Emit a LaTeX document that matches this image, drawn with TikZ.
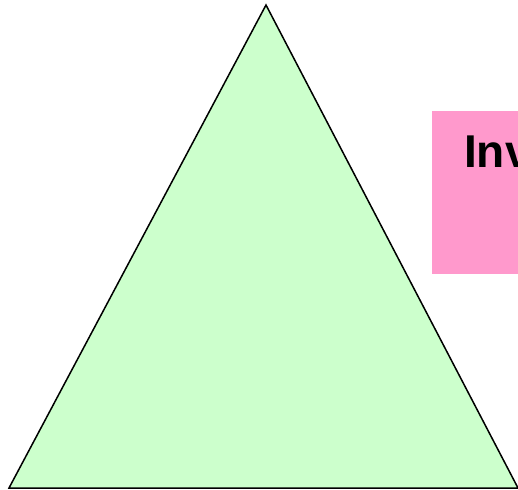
\documentclass[tikz,border=0pt]{standalone}
\usepackage{fontspec}
\setmainfont{Liberation Sans}
\definecolor{trigreen}{HTML}{CCFFCC}
\definecolor{boxpink}{HTML}{FF99CC}
\begin{document}
\begin{tikzpicture}[x=1pt,y=-1pt,
  tri/.style={draw=black,fill=trigreen,line width=1.5pt,line join=miter},
  pinkbox/.style={fill=boxpink,draw=none},
  title/.style={font=\fontsize{46}{50}\selectfont\bfseries,inner sep=0pt,anchor=base west}]
\useasboundingbox (0,0) rectangle (518,489);
\clip (0,0) rectangle (518,489);
\fill[white] (0,0) rectangle (518,489);
\coordinate (A) at (266,5);
\coordinate (B) at (9,488);
\coordinate (C) at (518,488);
\draw[tri] (B) -- (A) -- (C) -- cycle;
\fill[pinkbox] (432,111) rectangle (530,274);
\node[title] (t) at (464,167) {Inv};
\end{tikzpicture}
\end{document}
